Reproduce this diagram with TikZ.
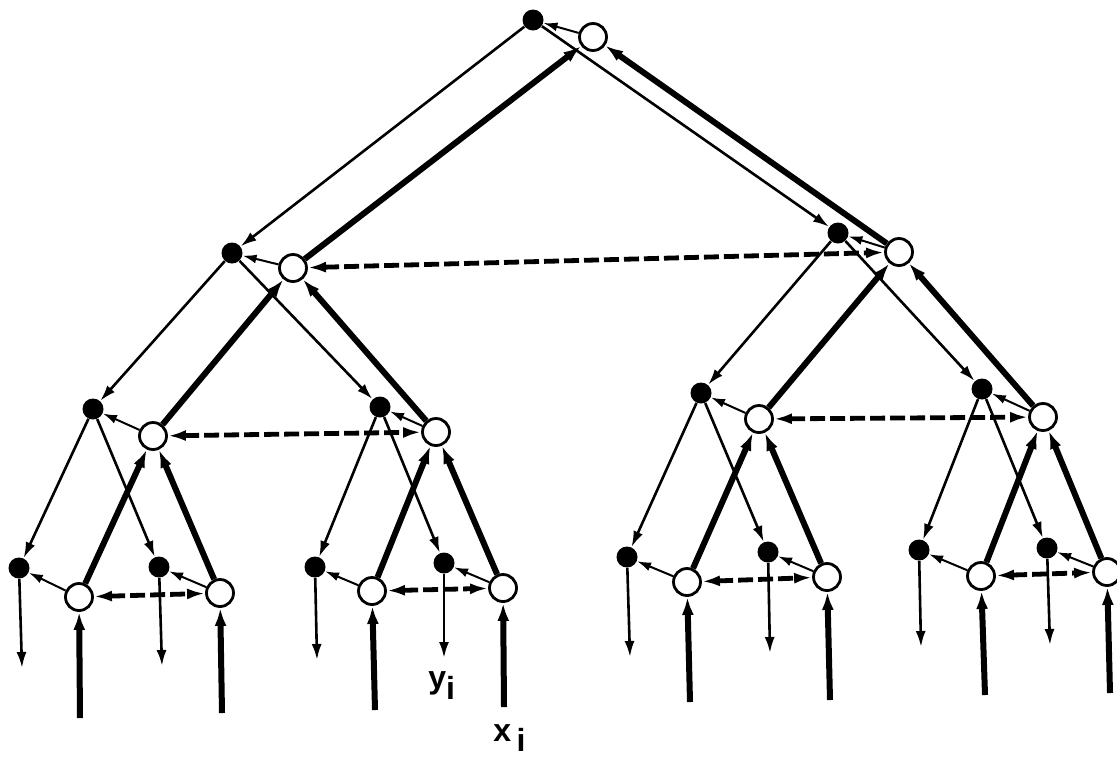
\documentclass[tikz,border=0pt]{standalone}
\usepackage{fontspec}
\setmainfont{Liberation Sans}
\usetikzlibrary{arrows.meta}

\begin{document}
\begin{tikzpicture}[x=0.5pt, y=-0.5pt,
  every node/.style={inner sep=0pt, text=black},
  down/.style={circle, fill=black, minimum size=10.5pt},
  up/.style={circle, draw=black, line width=1.4pt, fill=white, minimum size=13.5pt},
  pass/.style={-{Latex[length=7pt,width=4.5pt]}, line width=1pt},
  bcast/.style={-{Latex[length=8pt,width=5pt]}, line width=1.3pt},
  reduce/.style={-{Latex[length=9pt,width=6pt]}, line width=3pt},
  swapline/.style={{Latex[length=9pt,width=5.5pt]}-{Latex[length=9pt,width=5.5pt]},
                   line width=2.4pt, dash pattern=on 7.5pt off 2.5pt},
  lbl/.style={font=\fontsize{16}{19}\selectfont\bfseries, anchor=base west}]

  \useasboundingbox (0,0) rectangle (1117,757);

  %% ═══════════════════════════════════════════════════════════════
  %% LEVEL 0: ROOT
  %% ═══════════════════════════════════════════════════════════════

  \node[down] (b) at (533,20) {};
  \node[up]   (w) at (593,37) {};

  %% ═══════════════════════════════════════════════════════════════
  %% LEVEL 1
  %% ═══════════════════════════════════════════════════════════════

  \node[down] (bL) at (232,253) {};
  \node[up]   (wL) at (293,268) {};
  \node[down] (bR) at (838,233) {};
  \node[up]   (wR) at (899,252) {};

  %% ═══════════════════════════════════════════════════════════════
  %% LEVEL 2
  %% ═══════════════════════════════════════════════════════════════

  \node[down] (bLL) at (93,409)   {};
  \node[up]   (wLL) at (153,436)  {};
  \node[down] (bLR) at (380,407)  {};
  \node[up]   (wLR) at (436,432)  {};
  \node[down] (bRL) at (701,393)  {};
  \node[up]   (wRL) at (759,419)  {};
  \node[down] (bRR) at (982,389)  {};
  \node[up]   (wRR) at (1043,417) {};

  %% ═══════════════════════════════════════════════════════════════
  %% LEVEL 3: LEAVES
  %% ═══════════════════════════════════════════════════════════════

  \node[down] (bLLL) at (19,568)   {};
  \node[up]   (wLLL) at (79,597)   {};
  \node[down] (bLLR) at (159,567)  {};
  \node[up]   (wLLR) at (220,593)  {};
  \node[down] (bLRL) at (315,567)  {};
  \node[up]   (wLRL) at (372,591)  {};
  \node[down] (bLRR) at (444,563)  {};
  \node[up]   (wLRR) at (503,588)  {};
  \node[down] (bRLL) at (627,557)  {};
  \node[up]   (wRLL) at (687,582)  {};
  \node[down] (bRLR) at (768,552)  {};
  \node[up]   (wRLR) at (827,577)  {};
  \node[down] (bRRL) at (919,550)  {};
  \node[up]   (wRRL) at (981,576)  {};
  \node[down] (bRRR) at (1047,548) {};
  \node[up]   (wRRR) at (1107,572) {};

  % inputs x_i and outputs y_i
  \coordinate (oLLL) at (22,668);   \coordinate (iLLL) at (80,718);
  \coordinate (oLLR) at (162,666);  \coordinate (iLLR) at (222,713);
  \coordinate (oLRL) at (317,660);  \coordinate (iLRL) at (375,710);
  \coordinate (oLRR) at (444,658);  \coordinate (iLRR) at (504,707);
  \coordinate (oRLL) at (630,657);  \coordinate (iRLL) at (690,702);
  \coordinate (oRLR) at (770,653);  \coordinate (iRLR) at (830,700);
  \coordinate (oRRL) at (921,647);  \coordinate (iRRL) at (985,695);
  \coordinate (oRRR) at (1050,645); \coordinate (iRRR) at (1110,693);

  \node[lbl] (ylbl) at (428,688) {y\raisebox{-5.5pt}{i}};
  \node[lbl] (xlbl) at (493,741) {x\,\raisebox{-5pt}{i}};

  %% ═══════════════════════════════════════════════════════════════
  %% UP SWEEP (white, thick)
  %% ═══════════════════════════════════════════════════════════════

  \draw[reduce] (iLLL) -- (wLLL);  \draw[reduce] (iLLR) -- (wLLR);
  \draw[reduce] (iLRL) -- (wLRL);  \draw[reduce] (iLRR) -- (wLRR);
  \draw[reduce] (iRLL) -- (wRLL);  \draw[reduce] (iRLR) -- (wRLR);
  \draw[reduce] (iRRL) -- (wRRL);  \draw[reduce] (iRRR) -- (wRRR);

  \draw[reduce] (wLLL) -- (wLL);  \draw[reduce] (wLLR) -- (wLL);
  \draw[reduce] (wLRL) -- (wLR);  \draw[reduce] (wLRR) -- (wLR);
  \draw[reduce] (wRLL) -- (wRL);  \draw[reduce] (wRLR) -- (wRL);
  \draw[reduce] (wRRL) -- (wRR);  \draw[reduce] (wRRR) -- (wRR);

  \draw[reduce] (wLL) -- (wL);  \draw[reduce] (wLR) -- (wL);
  \draw[reduce] (wRL) -- (wR);  \draw[reduce] (wRR) -- (wR);

  \draw[reduce] (wL) -- (w);  \draw[reduce] (wR) -- (w);

  %% ═══════════════════════════════════════════════════════════════
  %% SIBLING EXCHANGE (dashed)
  %% ═══════════════════════════════════════════════════════════════

  \draw[swapline] (wL) -- (wR);
  \draw[swapline] (wLL) -- (wLR);
  \draw[swapline] (wRL) -- (wRR);
  \draw[swapline] (wLLL) -- (wLLR);
  \draw[swapline] (wLRL) -- (wLRR);
  \draw[swapline] (wRLL) -- (wRLR);
  \draw[swapline] (wRRL) -- (wRRR);

  %% ═══════════════════════════════════════════════════════════════
  %% WHITE -> BLACK IN EACH PAIR
  %% ═══════════════════════════════════════════════════════════════

  \draw[pass] (w) -- (b);
  \draw[pass] (wL) -- (bL);     \draw[pass] (wR) -- (bR);
  \draw[pass] (wLL) -- (bLL);   \draw[pass] (wLR) -- (bLR);
  \draw[pass] (wRL) -- (bRL);   \draw[pass] (wRR) -- (bRR);
  \draw[pass] (wLLL) -- (bLLL); \draw[pass] (wLLR) -- (bLLR);
  \draw[pass] (wLRL) -- (bLRL); \draw[pass] (wLRR) -- (bLRR);
  \draw[pass] (wRLL) -- (bRLL); \draw[pass] (wRLR) -- (bRLR);
  \draw[pass] (wRRL) -- (bRRL); \draw[pass] (wRRR) -- (bRRR);

  %% ═══════════════════════════════════════════════════════════════
  %% DOWN SWEEP (black, thin)
  %% ═══════════════════════════════════════════════════════════════

  \draw[bcast] (b) -- (bL);  \draw[bcast] (b) -- (bR);

  \draw[bcast] (bL) -- (bLL);  \draw[bcast] (bL) -- (bLR);
  \draw[bcast] (bR) -- (bRL);  \draw[bcast] (bR) -- (bRR);

  \draw[bcast] (bLL) -- (bLLL);  \draw[bcast] (bLL) -- (bLLR);
  \draw[bcast] (bLR) -- (bLRL);  \draw[bcast] (bLR) -- (bLRR);
  \draw[bcast] (bRL) -- (bRLL);  \draw[bcast] (bRL) -- (bRLR);
  \draw[bcast] (bRR) -- (bRRL);  \draw[bcast] (bRR) -- (bRRR);

  \draw[bcast] (bLLL) -- (oLLL);  \draw[bcast] (bLLR) -- (oLLR);
  \draw[bcast] (bLRL) -- (oLRL);  \draw[bcast] (bLRR) -- (oLRR);
  \draw[bcast] (bRLL) -- (oRLL);  \draw[bcast] (bRLR) -- (oRLR);
  \draw[bcast] (bRRL) -- (oRRL);  \draw[bcast] (bRRR) -- (oRRR);

\end{tikzpicture}
\end{document}
